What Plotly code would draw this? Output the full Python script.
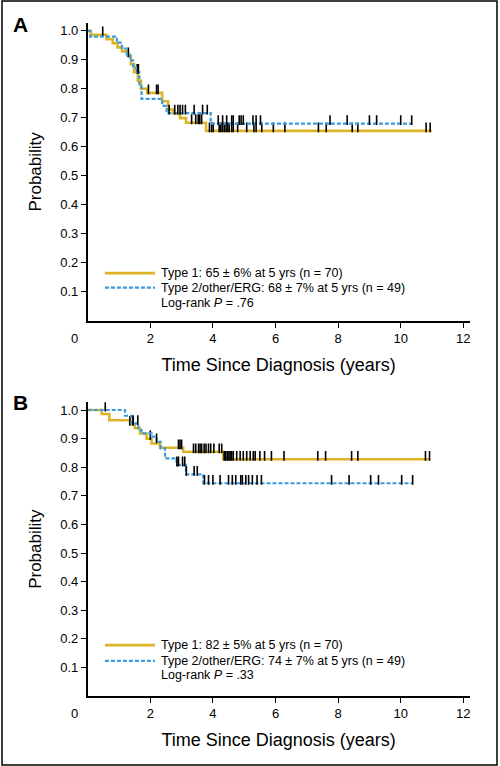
import numpy as np
import plotly.graph_objects as go

# ---------------- DATA ----------------
# Panel A
A_type1_t = [0, 0.1, 0.6, 0.8, 0.95, 1.1, 1.28, 1.38, 1.48, 1.6, 1.7, 1.9, 2.38, 2.57, 2.73, 2.95, 3.14, 3.78]
A_type1_s = [1.0, 0.986, 0.971, 0.957, 0.943, 0.929, 0.914, 0.885, 0.857, 0.828, 0.800, 0.786, 0.757, 0.728, 0.714, 0.699, 0.683, 0.655]
A_type1_end = 10.99
A_type1_cens = [0.48, 1.3, 1.58, 1.94, 2.2, 2.25, 3.32, 3.45, 3.53, 3.58, 3.64, 3.89, 3.96, 4.01, 4.2, 4.25,
                4.3, 4.36, 4.42, 4.47, 4.52, 4.6, 4.65, 4.79, 5.08, 5.31, 5.38, 5.56, 5.93, 6.3, 7.37, 7.62,
                8.45, 8.63, 10.81, 10.94]

A_type2_t = [0, 0.08, 0.93, 1.09, 1.25, 1.35, 1.45, 1.55, 1.65, 1.72, 2.38, 2.52, 3.93]
A_type2_s = [1.0, 0.980, 0.959, 0.939, 0.918, 0.898, 0.878, 0.857, 0.816, 0.765, 0.741, 0.716, 0.680]
A_type2_end = 10.37
A_type2_cens = [1.62, 2.6, 2.78, 2.88, 2.95, 3.03, 3.12, 3.4, 3.67, 3.82, 4.17, 4.31, 4.44, 4.6, 4.65, 4.84,
                4.9, 4.97, 5.28, 5.38, 5.52, 7.74, 8.29, 9.0, 9.23, 10.0, 10.35]

# Panel B
B_type1_t = [0, 0.45, 0.69, 1.35, 1.51, 1.67, 1.88, 2.04, 2.31, 3.05, 4.33]
B_type1_s = [1.0, 0.986, 0.964, 0.950, 0.936, 0.918, 0.900, 0.883, 0.868, 0.854, 0.828]
B_type1_end = 10.94
B_type1_cens = [1.35, 1.45, 2.0, 2.9, 2.95, 3.0, 3.38, 3.45, 3.54, 3.59, 3.64, 3.72, 3.78, 3.86, 3.93, 4.03,
                4.2, 4.28, 4.36, 4.41, 4.46, 4.51, 4.55, 4.6, 4.65, 4.76, 4.87, 4.97, 5.08, 5.19, 5.29, 5.35,
                5.5, 5.65, 5.87, 6.27, 7.35, 7.6, 8.43, 8.63, 10.79, 10.92]

B_type2_t = [0, 1.19, 1.4, 1.62, 1.72, 2.04, 2.2, 2.33, 2.47, 2.84, 3.14, 3.69]
B_type2_s = [1.0, 0.980, 0.953, 0.930, 0.918, 0.907, 0.889, 0.866, 0.831, 0.808, 0.775, 0.744]
B_type2_end = 10.38
B_type2_cens = [0.56, 1.45, 1.6, 2.2, 2.85, 2.9, 3.03, 3.1, 3.15, 3.4, 3.5, 3.73, 3.86, 4.0, 4.23, 4.5, 4.62,
                4.73, 4.89, 4.94, 5.05, 5.14, 5.26, 5.41, 5.55, 7.79, 8.35, 9.04, 9.29, 10.03, 10.38]

legend_A = ["Type 1: 65 ± 6% at 5 yrs (n = 70)",
            "Type 2/other/ERG: 68 ± 7% at 5 yrs (n = 49)",
            "Log-rank <i>P</i> = .76"]
legend_B = ["Type 1: 82 ± 5% at 5 yrs (n = 70)",
            "Type 2/other/ERG: 74 ± 7% at 5 yrs (n = 49)",
            "Log-rank <i>P</i> = .33"]

x_ticks = [2, 4, 6, 8, 10, 12]
y_ticks = [0.1, 0.2, 0.3, 0.4, 0.5, 0.6, 0.7, 0.8, 0.9, 1.0]
y_ticklabels = ["0.1", "0.2", "0.3", "0.4", "0.5", "0.6", "0.7", "0.8", "0.9", "1.0"]

# ---------------- STYLE ----------------
GOLD = "#DDB427"
BLUE = "#3C9BDC"
FONT = "Liberation Sans, Arial, sans-serif"

fig = go.Figure()


def surv_at(ts, ss, t):
    idx = np.searchsorted(np.array(ts), t, side="right") - 1
    return ss[max(idx, 0)]


def add_curve(ts, ss, end, cens, color, dash, width, xa, ya):
    fig.add_trace(go.Scatter(
        x=list(ts) + [end], y=list(ss) + [ss[-1]], mode="lines",
        line=dict(color=color, width=width, dash=dash, shape="hv"),
        xaxis=xa, yaxis=ya, showlegend=False, hoverinfo="skip"))
    cy = [surv_at(ts, ss, c) + 0.012 for c in cens]
    fig.add_trace(go.Scatter(
        x=cens, y=cy, mode="markers",
        marker=dict(symbol="line-ns", size=7, line=dict(color="black", width=1.6)),
        xaxis=xa, yaxis=ya, showlegend=False, hoverinfo="skip"))


add_curve(A_type1_t, A_type1_s, A_type1_end, A_type1_cens, GOLD, "solid", 2.6, "x", "y")
add_curve(A_type2_t, A_type2_s, A_type2_end, A_type2_cens, BLUE, "4px,2px", 2.2, "x", "y")
add_curve(B_type1_t, B_type1_s, B_type1_end, B_type1_cens, GOLD, "solid", 2.6, "x2", "y2")
add_curve(B_type2_t, B_type2_s, B_type2_end, B_type2_cens, BLUE, "4px,2px", 2.2, "x2", "y2")

W, H = 500, 766
x_dom = [87.7 / W, 469.6 / W]
yA_dom = [(H - 320.7) / H, (H - 23.0) / H]
yB_dom = [(H - 696.0) / H, (H - 402.3) / H]

xaxis_common = dict(range=[0, 12.2], tickvals=x_ticks, ticktext=[str(v) for v in x_ticks],
                    showline=True, linecolor="black", linewidth=1.6, ticks="outside", ticklen=5,
                    tickwidth=1.3, tickcolor="black", showgrid=False, zeroline=False,
                    tickfont=dict(family=FONT, size=13, color="black"),
                    title=dict(text="Time Since Diagnosis (years)",
                               font=dict(family=FONT, size=18, color="black"), standoff=13))
yaxis_common = dict(range=[0, 1.027], tickvals=y_ticks, ticktext=y_ticklabels,
                    showline=True, linecolor="black", linewidth=1.6, ticks="outside", ticklen=5,
                    tickwidth=1.3, tickcolor="black", showgrid=False, zeroline=False,
                    tickfont=dict(family=FONT, size=13, color="black"),
                    title=dict(text="Probability", font=dict(family=FONT, size=17, color="black"),
                               standoff=14))

fig.update_layout(
    width=W, height=H, margin=dict(l=0, r=0, t=0, b=0),
    paper_bgcolor="white", plot_bgcolor="white",
    xaxis=dict(domain=x_dom, anchor="y", **xaxis_common),
    yaxis=dict(domain=yA_dom, anchor="x", **yaxis_common),
    xaxis2=dict(domain=x_dom, anchor="y2", **xaxis_common),
    yaxis2=dict(domain=yB_dom, anchor="x2", **yaxis_common),
)

shapes = [dict(type="rect", xref="paper", yref="paper", x0=2 / W, x1=497 / W, y0=1 / H, y1=765 / H,
               line=dict(color="black", width=1.5))]
annotations = []

for (xa, ya, texts, ys, letter, letter_y) in [
        ("x", "y", legend_A, [0.164, 0.114, 0.062], "A", (H - 25) / H),
        ("x2", "y2", legend_B, [0.178, 0.123, 0.073], "B", (H - 402) / H)]:
    shapes.append(dict(type="line", xref=xa, yref=ya, x0=0.55, x1=2.15, y0=ys[0], y1=ys[0],
                       line=dict(color=GOLD, width=2.6)))
    shapes.append(dict(type="line", xref=xa, yref=ya, x0=0.55, x1=2.15, y0=ys[1], y1=ys[1],
                       line=dict(color=BLUE, width=2.2, dash="4px,2px")))
    for txt, yy in zip(texts, ys):
        annotations.append(dict(text=txt, xref=xa, yref=ya, x=2.27, y=yy, xanchor="left",
                                yanchor="middle", showarrow=False,
                                font=dict(family=FONT, size=12.5, color="black")))
    annotations.append(dict(text="0", xref=xa, yref=ya, x=0, y=0, xanchor="center", yanchor="top",
                            xshift=-13, yshift=-8, showarrow=False,
                            font=dict(family=FONT, size=13, color="black")))
    annotations.append(dict(text="<b>" + letter + "</b>", xref="paper", yref="paper", x=20 / W,
                            y=letter_y, xanchor="center", yanchor="middle", showarrow=False,
                            font=dict(family=FONT, size=21, color="black")))

fig.update_layout(shapes=shapes, annotations=annotations)
fig.write_html("out.html", config={"displayModeBar": False},
               post_script="document.body.style.margin='0';document.body.style.padding='0';")
